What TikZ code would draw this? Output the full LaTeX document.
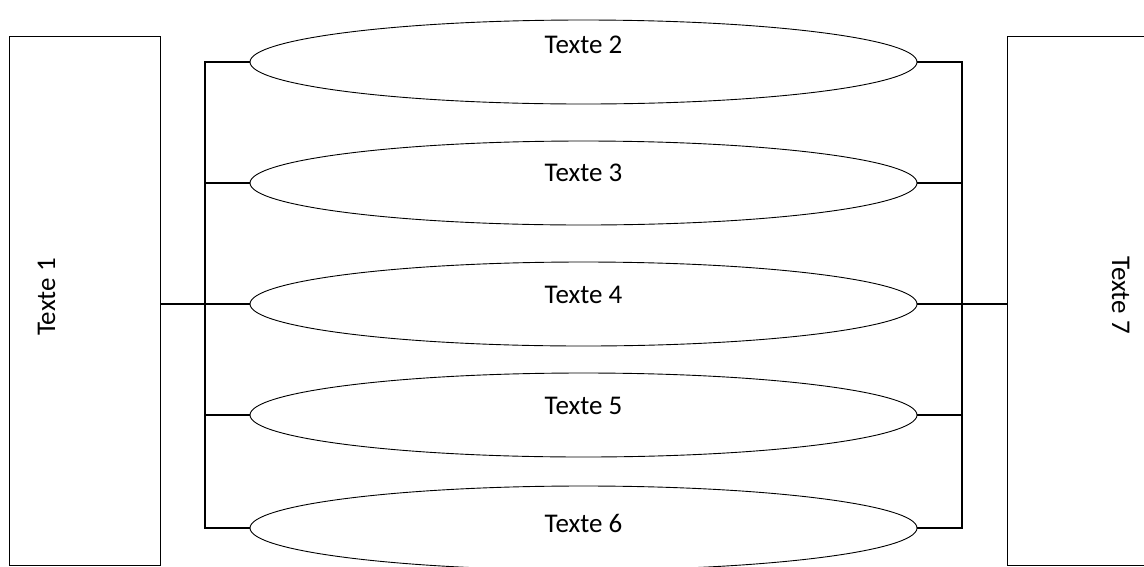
\documentclass[tikz,border=0pt]{standalone}
\usepackage{fontspec}
\setmainfont{Carlito}
\usetikzlibrary{shapes.geometric}
\begin{document}
\begin{tikzpicture}[x=1pt,y=-1pt,
    box/.style={draw,line width=0.9pt,minimum width=151pt,minimum height=529pt,inner sep=0pt},
    oval/.style={ellipse,draw,line width=0.9pt,minimum width=667pt,minimum height=84pt,inner sep=0pt},
    lbl/.style={font=\fontsize{27}{31}\selectfont,anchor=base,inner sep=0pt},
    bus/.style={line width=2.3pt}]
        \useasboundingbox (0,0) rectangle (1144,566);
        \node[box] (b1) at (84.5,300.5) {};
        \node[box] (b7) at (1082.5,300.5) {};
        \node[lbl,rotate=90] (t1) at (55,297) {Texte 1};
        \node[lbl,rotate=-90] (t7) at (1112,295) {Texte 7};

        \foreach \i/\y/\b in {2/62/53,3/183/181,4/304/303,5/415/414,6/528/532} {
            \node[oval] (e\i) at (583.5,\y) {};
            \node[lbl] (l\i) at (583.5,\b) {Texte \i};
        }

        \coordinate (lt) at (205,62);
        \coordinate (lb) at (205,528);
        \coordinate (rt) at (962,62);
        \coordinate (rb) at (962,528);
        \draw[bus] (e2.west) -- (lt) -- (lb) -- (e6.west);
        \draw[bus] (e2.east) -- (rt) -- (rb) -- (e6.east);
        \foreach \i in {3,4,5} {
            \draw[bus] (e\i.west) -- (e\i.west -| lt);
            \draw[bus] (e\i.east) -- (e\i.east -| rt);
        }
        \draw[line width=1.6pt] (b1.east |- e4.west) -- (e4.west);
        \draw[line width=1.6pt] (e4.east) -- (e4.east -| b7.west);
\end{tikzpicture}
\end{document}
